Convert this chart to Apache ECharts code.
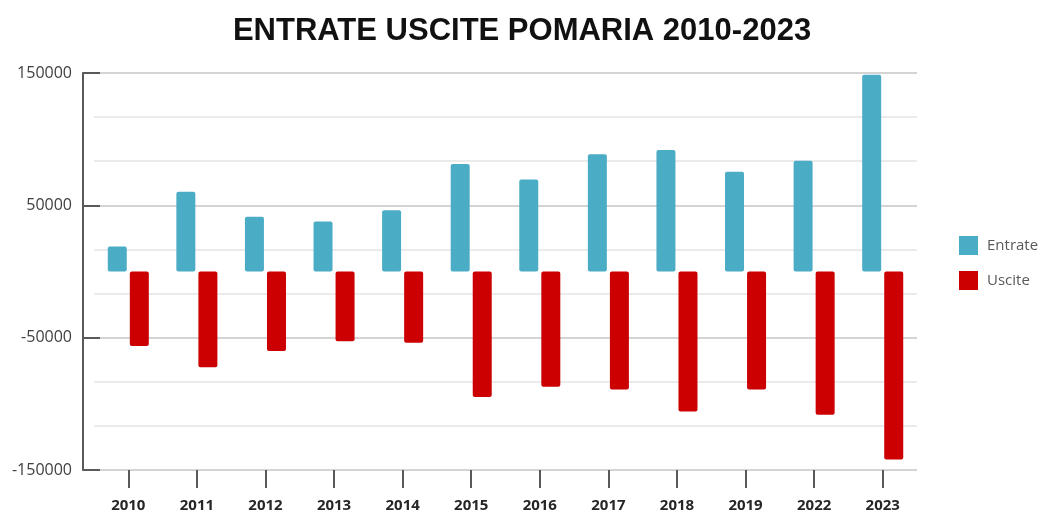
<!DOCTYPE html>
<html>
<head>
<meta charset="utf-8">
<script src="https://cdn.jsdelivr.net/npm/echarts@6/dist/echarts.min.js"></script>
<style>
  html, body { margin: 0; padding: 0; background: #fff; }
  #chart { width: 1044px; height: 513px; }
</style>
</head>
<body>
<div id="chart"></div>
<script>
// anni (2020 e 2021 non presenti nel grafico originale)
const anni = ['2010', '2011', '2012', '2013', '2014', '2015', '2016', '2017', '2018', '2019', '2022', '2023'];

const entrate = [18900, 60200, 41300, 37800, 46200, 81200, 69600, 88600, 91800, 75400, 83700, 148600];

const uscite = [-56300, -72400, -60100, -52700, -53800, -94900, -87100, -89100, -105700, -89100, -108300, -142100];

const chart = echarts.init(document.getElementById('chart'));

chart.setOption({
  animation: false,
  title: {
    text: 'ENTRATE USCITE POMARIA 2010-2023',
    left: 'center',
    top: 11,
    textStyle: {
      fontFamily: 'Liberation Sans',
      fontWeight: 'bold',
      fontSize: 31,
      color: '#111'
    }
  },
  legend: {
    orient: 'vertical',
    left: 954,
    top: 231,
    itemWidth: 19,
    itemHeight: 19,
    itemGap: 16,
    icon: 'rect',
    textStyle: {
      fontFamily: 'Open Sans',
      fontSize: 15,
      color: '#595959',
      padding: [0, 0, 0, 4]
    },
    data: ['Entrate', 'Uscite']
  },
  grid: {
    left: 94,
    right: 127,
    top: 73,
    bottom: 40
  },
  xAxis: {
    type: 'category',
    data: anni,
    axisLine: { show: false, onZero: false },
    axisTick: {
      show: true,
      alignWithLabel: true,
      length: 18,
      lineStyle: { color: '#595959', width: 2 }
    },
    axisLabel: {
      margin: 28,
      fontFamily: 'Open Sans',
      fontWeight: 'bold',
      fontSize: 15,
      color: '#262626'
    }
  },
  yAxis: {
    type: 'value',
    min: -150000,
    max: 150000,
    interval: 100000,
    offset: 11,
    axisLine: { show: true, lineStyle: { color: '#595959', width: 2 } },
    axisTick: {
      show: true,
      inside: true,
      length: 17,
      lineStyle: { color: '#595959', width: 2 }
    },
    axisLabel: {
      margin: 11,
      fontFamily: 'Open Sans',
      fontSize: 16,
      color: '#404040',
      formatter: function (v) { return String(v); }
    },
    splitLine: { show: true, lineStyle: { color: '#d4d4d4', width: 2 } },
    minorTick: { show: false, splitNumber: 3 },
    minorSplitLine: { show: true, lineStyle: { color: '#ebebeb', width: 2 } }
  },
  series: [
    {
      name: 'Entrate',
      type: 'bar',
      data: entrate,
      barWidth: 19,
      barGap: '16%',
      itemStyle: { color: '#4BACC6', borderRadius: 2 }
    },
    {
      name: 'Uscite',
      type: 'bar',
      data: uscite,
      barWidth: 19,
      itemStyle: { color: '#CC0000', borderRadius: 2 }
    }
  ]
});
</script>
</body>
</html>
